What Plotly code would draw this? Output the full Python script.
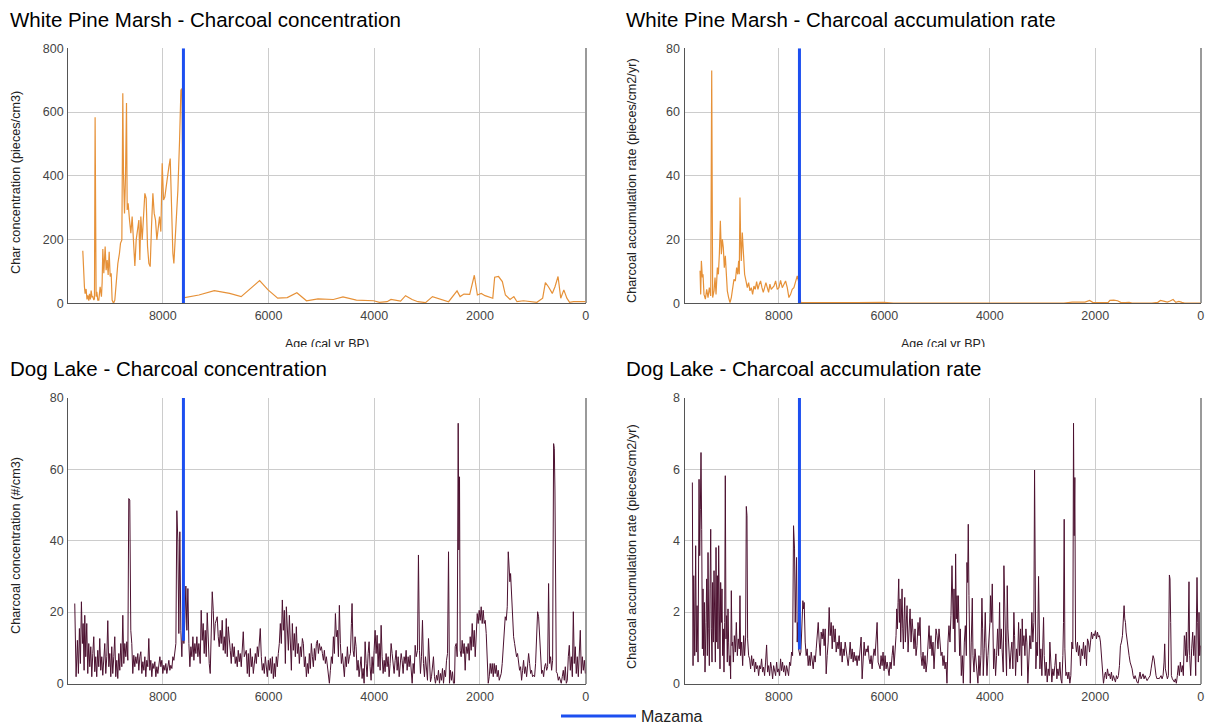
import plotly.graph_objects as go

# ---------------------------------------------------------------------------
# Data
# ---------------------------------------------------------------------------
AGE_TICKS = [8000, 6000, 4000, 2000, 0]
MAZAMA_AGE = 7610

# White Pine Marsh, samples older than the Mazama tephra (concentration)
wp_pre_conc_age = [
    9514, 9501, 9483, 9470, 9451, 9435, 9419, 9400, 9388, 9370,
    9356, 9340, 9325, 9305, 9293, 9281, 9262, 9249, 9230, 9211,
    9186, 9161, 9148, 9135, 9116, 9091, 9072, 9053, 9034, 9015,
    8996, 8977, 8959, 8933, 8908, 8883, 8851, 8820, 8801, 8775,
    8757, 8744, 8725, 8706, 8687, 8674, 8656, 8630, 8605, 8580,
    8555, 8529, 8504, 8479, 8453, 8435, 8416, 8390, 8365, 8340,
    8315, 8289, 8264, 8239, 8214, 8188, 8163, 8138, 8113, 8087,
    8062, 8037, 8012, 7986, 7961, 7936, 7911, 7885, 7860, 7835,
    7810, 7791, 7772, 7746, 7715, 7683, 7658, 7639, 7605,
]
wp_pre_conc = [
    165, 104, 52, 30, 45, 12, 25, 8, 30, 12,
    40, 20, 21, 10, 15, 584, 21, 36, 10, 10,
    52, 21, 65, 170, 94, 178, 104, 136, 89, 162,
    84, 94, 10, 0, 10, 73, 125, 157, 188, 199,
    659, 409, 282, 397, 628, 293, 314, 261, 220, 272,
    190, 117, 199, 225, 261, 136, 272, 199, 282, 345,
    329, 178, 125, 115, 240, 345, 282, 261, 199, 230,
    272, 225, 439, 324, 334, 366, 408, 429, 454, 282,
    157, 125, 188, 240, 355, 512, 669, 674, 20,
]

# White Pine Marsh, samples older than the Mazama tephra (accumulation)
wp_pre_car_age = [
    9495, 9483, 9470, 9451, 9439, 9420, 9394, 9369, 9344, 9319,
    9293, 9274, 9256, 9230, 9211, 9192, 9167, 9148, 9129, 9110,
    9091, 9072, 9054, 9035, 9016, 8997, 8978, 8953, 8927, 8902,
    8877, 8852, 8826, 8801, 8782, 8763, 8751, 8738, 8725, 8713,
    8694, 8675, 8650, 8624, 8599, 8574, 8549, 8523, 8498, 8473,
    8448, 8422, 8397, 8372, 8347, 8321, 8296, 8271, 8246, 8220,
    8195, 8170, 8145, 8119, 8094, 8062, 8031, 7999, 7968, 7936,
    7905, 7873, 7841, 7810, 7778, 7747, 7715, 7684, 7652, 7627,
    7600,
]
wp_pre_car = [
    10.2, 2.8, 13.3, 8.1, 9.1, 2.8, 1.3, 4.4, 1.8, 4.9,
    2.3, 73.0, 1.8, 3.9, 8.1, 2.8, 11.2, 9.1, 15.4, 25.9,
    15.4, 20.1, 17.5, 11.2, 14.9, 7.0, 3.9, 1.8, 0.2, 1.8,
    4.9, 7.5, 7.0, 11.2, 9.1, 13.3, 9.1, 33.2, 19.6, 13.3,
    22.2, 15.4, 9.1, 7.0, 4.9, 6.5, 3.9, 4.9, 2.8, 5.4,
    4.4, 6.8, 4.4, 6.0, 7.0, 4.9, 3.4, 4.9, 6.5, 4.9,
    3.4, 6.0, 4.4, 4.9, 5.4, 7.0, 4.4, 4.9, 7.2, 4.9,
    6.0, 7.0, 4.9, 1.8, 2.8, 4.4, 4.9, 7.0, 8.6, 7.0,
    0.2,
]

# White Pine Marsh, post-Mazama samples (shared ages)
wp_post_age = [
    7586, 7317, 7026, 6736, 6518, 6169, 6009, 5827, 5646, 5464,
    5282, 5064, 4774, 4592, 4338, 4011, 3902, 3757, 3684, 3502,
    3408, 3284, 3175, 3030, 2899, 2776, 2594, 2434, 2376, 2303,
    2194, 2107, 2049, 1976, 1904, 1758, 1722, 1649, 1577, 1519,
    1431, 1359, 1300, 1177, 1032, 923, 814, 763, 705, 632,
    581, 523, 472, 414, 356, 305, 232, 124, 0,
]
wp_post_conc = [
    18, 26, 40, 31, 21, 71, 42, 16, 18, 33,
    8, 14, 12, 20, 10, 8, 3, 5, 12, 7,
    24, 12, 5, 2, 21, 14, 5, 39, 21, 29,
    28, 88, 26, 31, 24, 16, 82, 84, 68, 26,
    12, 21, 5, 8, 5, 3, 16, 65, 52, 31,
    52, 84, 16, 42, 16, 3, 5, 4, 5,
]
wp_post_car = [
    0.2, 0.2, 0.3, 0.2, 0.2, 0.4, 0.3, 0.1, 0.1, 0.2,
    0.1, 0.1, 0.1, 0.1, 0.1, 0.1, 0.05, 0.1, 0.1, 0.1,
    0.2, 0.1, 0.1, 0.05, 0.2, 0.2, 0.1, 0.4, 0.3, 0.4,
    0.4, 0.9, 0.3, 0.3, 0.3, 0.2, 0.9, 1.0, 0.8, 0.3,
    0.2, 0.3, 0.1, 0.1, 0.1, 0.05, 0.3, 0.9, 0.7, 0.4,
    0.7, 1.2, 0.3, 0.6, 0.3, 0.1, 0.1, 0.1, 0.1,
]

# Dog Lake charcoal concentration (#/cm3)
dl_conc_age = [
    9666, 9641, 9616, 9597, 9578, 9559, 9540, 9521, 9508, 9489,
    9477, 9458, 9439, 9420, 9401, 9382, 9363, 9344, 9325, 9306,
    9287, 9269, 9250, 9231, 9212, 9193, 9174, 9155, 9136, 9117,
    9098, 9079, 9060, 9041, 9022, 9003, 8984, 8966, 8947, 8928,
    8909, 8890, 8871, 8852, 8833, 8814, 8795, 8776, 8757, 8738,
    8719, 8700, 8681, 8662, 8644, 8625, 8606, 8587, 8568, 8549,
    8530, 8511, 8492, 8473, 8454, 8435, 8416, 8397, 8378, 8359,
    8340, 8322, 8303, 8284, 8265, 8246, 8227, 8208, 8189, 8170,
    8151, 8132, 8113, 8094, 8075, 8056, 8037, 8019, 8000, 7981,
    7962, 7943, 7924, 7905, 7886, 7867, 7848, 7829, 7810, 7791,
    7772, 7753, 7735, 7716, 7697, 7678, 7659, 7640, 7621, 7602,
    7583, 7564, 7545, 7526, 7507, 7488, 7469, 7450, 7431, 7412,
    7394, 7375, 7356, 7337, 7318, 7293, 7274, 7255, 7236, 7217,
    7198, 7179, 7160, 7141, 7122, 7103, 7084, 7065, 7046, 7027,
    7008, 6990, 6971, 6952, 6933, 6914, 6895, 6876, 6857, 6838,
    6819, 6800, 6781, 6762, 6743, 6724, 6705, 6686, 6667, 6649,
    6630, 6611, 6592, 6573, 6554, 6535, 6516, 6497, 6478, 6459,
    6421, 6402, 6383, 6364, 6345, 6326, 6307, 6288, 6269, 6250,
    6231, 6212, 6193, 6175, 6156, 6137, 6118, 6099, 6080, 6061,
    6042, 6023, 6004, 5985, 5966, 5947, 5928, 5909, 5890, 5872,
    5853, 5834, 5815, 5796, 5777, 5758, 5739, 5720, 5701, 5682,
    5663, 5644, 5625, 5606, 5587, 5568, 5550, 5531, 5512, 5493,
    5474, 5455, 5436, 5417, 5398, 5379, 5360, 5341, 5322, 5303,
    5284, 5265, 5246, 5228, 5209, 5190, 5171, 5152, 5133, 5114,
    5095, 5076, 5057, 5038, 5019, 5000, 4981, 4962, 4944, 4925,
    4906, 4887, 4868, 4849, 4830, 4811, 4792, 4773, 4754, 4735,
    4716, 4697, 4678, 4660, 4641, 4622, 4603, 4584, 4565, 4546,
    4527, 4508, 4489, 4470, 4451, 4432, 4420, 4401, 4382, 4363,
    4344, 4325, 4306, 4287, 4268, 4249, 4230, 4211, 4192, 4173,
    4154, 4135, 4116, 4098, 4079, 4060, 4041, 4022, 4003, 3984,
    3965, 3946, 3927, 3908, 3889, 3870, 3851, 3832, 3813, 3795,
    3776, 3757, 3738, 3719, 3700, 3681, 3662, 3643, 3624, 3605,
    3586, 3567, 3548, 3529, 3510, 3491, 3473, 3454, 3435, 3416,
    3397, 3378, 3359, 3340, 3321, 3302, 3283, 3264, 3245, 3226,
    3207, 3182, 3164, 3145, 3126, 3107, 3088, 3069, 3050, 3031,
    3012, 2993, 2974, 2955, 2936, 2917, 2898, 2880, 2861, 2842,
    2823, 2804, 2785, 2766, 2747, 2728, 2709, 2690, 2671, 2652,
    2633, 2614, 2595, 2577, 2558, 2539, 2520, 2501, 2482, 2469,
    2450, 2431, 2412, 2400, 2387, 2375, 2356, 2337, 2318, 2299,
    2280, 2261, 2242, 2223, 2204, 2185, 2166, 2147, 2128, 2109,
    2090, 2071, 2052, 2034, 2015, 1996, 1977, 1958, 1939, 1920,
    1901, 1882, 1863, 1844, 1825, 1806, 1787, 1768, 1749, 1731,
    1712, 1693, 1674, 1655, 1636, 1617, 1598, 1579, 1560, 1541,
    1522, 1503, 1484, 1465, 1447, 1434, 1421, 1402, 1383, 1364,
    1345, 1327, 1308, 1289, 1270, 1251, 1232, 1213, 1194, 1175,
    1156, 1137, 1118, 1099, 1080, 1061, 1042, 1024, 1005, 986,
    967, 948, 929, 910, 891, 872, 853, 834, 815, 796,
    777, 758, 739, 720, 702, 683, 664, 645, 626, 607,
    594, 582, 569, 556, 537, 519, 500, 481, 462, 443,
    424, 405, 386, 367, 348, 329, 310, 291, 272, 253,
    234, 216, 197, 178, 159, 140, 121, 102, 83, 64,
    45, 26, 7,
]
dl_conc = [
    22.4, 1.9, 12.1, 2.8, 15.4, 5.6, 22.9, 11.2, 16.8, 3.7,
    19.1, 7.5, 16.8, 2.8, 11.2, 4.7, 10.3, 1.9, 8.4, 13.1,
    3.3, 7.5, 1.9, 9.3, 4.7, 12.6, 3.7, 7.5, 2.3, 8.4,
    11.2, 2.8, 7.5, 17.6, 4.7, 8.4, 1.9, 10.3, 2.8, 7.5,
    13.1, 1.9, 6.5, 1.4, 8.4, 3.7, 11.2, 4.7, 19.1, 5.6,
    11.2, 7.5, 11.7, 6.5, 51.8, 51.4, 14.9, 11.2, 2.8, 7.9,
    4.7, 7.5, 5.6, 8.4, 3.7, 7.5, 8.9, 2.8, 6.1, 3.7,
    7.5, 1.9, 6.5, 4.7, 12.6, 3.7, 6.5, 1.9, 5.6, 4.2,
    6.1, 1.9, 4.7, 2.8, 6.1, 7.5, 4.7, 6.5, 2.8, 5.1,
    3.7, 5.6, 2.8, 4.7, 6.5, 3.7, 5.1, 4.2, 7.5, 6.5,
    8.4, 11.2, 48.4, 40.2, 14.0, 42.5, 14.9, 7.5, 17.7, 11.2,
    17.7, 27.3, 14.9, 26.6, 11.2, 4.7, 10.3, 7.5, 13.1, 6.5,
    11.2, 8.4, 13.1, 7.5, 11.2, 5.6, 20.5, 12.1, 16.8, 8.4,
    14.9, 7.5, 19.8, 11.2, 5.6, 2.8, 16.8, 25.7, 20.5, 12.1,
    16.8, 17.7, 18.7, 13.1, 10.3, 14.9, 11.2, 17.7, 9.3, 13.1,
    8.4, 18.2, 7.5, 15.9, 11.2, 9.3, 5.6, 11.2, 7.5, 10.3,
    5.6, 7.5, 4.7, 9.3, 6.1, 8.4, 4.7, 9.3, 14.5, 7.5,
    9.3, 2.8, 8.4, 1.9, 9.8, 4.7, 7.5, 2.8, 6.5, 8.4,
    5.6, 10.3, 7.5, 11.2, 15.4, 7.5, 3.7, 5.6, 2.8, 7.5,
    4.7, 1.9, 6.5, 3.7, 7.0, 2.8, 7.5, 1.4, 5.6, 1.9,
    7.5, 4.7, 8.4, 11.2, 16.8, 11.2, 23.4, 14.9, 20.5, 5.6,
    21.5, 13.1, 9.3, 19.1, 11.2, 3.7, 16.8, 9.3, 14.0, 7.5,
    15.9, 8.4, 11.2, 5.6, 10.3, 7.5, 12.6, 11.2, 4.7, 7.5,
    1.9, 5.6, 2.8, 8.4, 4.2, 11.2, 7.5, 4.7, 9.8, 6.5,
    11.2, 12.1, 8.4, 11.2, 9.3, 10.3, 8.4, 6.5, 9.3, 5.6,
    7.5, 4.7, 2.8, 0, 3.7, 7.5, 5.6, 13.1, 8.4, 19.6,
    13.1, 14.9, 7.5, 21.9, 11.2, 5.6, 8.4, 3.7, 1.9, 7.5,
    4.7, 10.3, 5.6, 7.5, 8.4, 16.8, 22.4, 9.3, 7.5, 13.1,
    10.3, 3.7, 6.5, 1.9, 4.7, 7.5, 1.4, 4.2, 0, 11.7,
    5.6, 1.9, 8.4, 11.7, 4.7, 0.9, 7.5, 2.8, 9.3, 14.9,
    8.4, 13.5, 4.7, 11.2, 3.7, 16.3, 7.5, 2.8, 6.5, 3.3,
    8.4, 4.7, 7.5, 1.9, 5.6, 11.2, 8.4, 4.7, 2.8, 6.5,
    9.3, 3.7, 7.5, 1.9, 4.7, 8.4, 6.5, 2.8, 7.5, 5.6,
    9.3, 3.7, 7.5, 4.7, 7.9, 2.8, 0, 5.6, 2.8, 10.7,
    7.5, 9.3, 36.0, 9.3, 2.8, 7.5, 17.7, 5.6, 1.9, 7.5,
    2.8, 0.9, 12.6, 3.7, 0.5, 1.9, 4.7, 7.5, 1.9, 0,
    2.3, 0.9, 3.7, 0, 2.8, 0.9, 4.2, 0, 3.7, 1.9,
    6.5, 8.4, 36.9, 0, 3.7, 0.9, 3.3, 0, 0, 10.3,
    11.2, 7.5, 72.9, 37.4, 57.9, 9.3, 7.5, 12.1, 8.4, 11.2,
    3.7, 10.3, 8.4, 11.2, 6.5, 13.1, 9.3, 16.8, 10.3, 14.9,
    7.5, 14.0, 19.6, 16.8, 20.5, 17.7, 21.5, 16.8, 20.5, 16.8,
    17.7, 14.0, 7.5, 0, 1.9, 5.6, 2.8, 5.6, 1.9, 5.6,
    2.8, 5.1, 1.9, 3.7, 0.9, 1.9, 2.8, 5.6, 9.3, 14.9,
    18.7, 17.7, 21.5, 36.9, 32.7, 28.5, 30.8, 24.3, 17.7, 13.1,
    11.2, 9.3, 7.5, 8.4, 5.1, 3.7, 4.7, 0.9, 3.7, 6.5,
    2.8, 4.7, 1.9, 6.5, 8.4, 5.6, 2.8, 3.7, 1.9, 2.3,
    1.9, 5.6, 13.1, 20.1, 18.7, 14.0, 6.5, 2.8, 3.7, 1.9,
    4.7, 5.6, 3.7, 4.7, 28.0, 5.6, 7.5, 3.7, 6.5, 67.2,
    65.8, 54.2, 26.2, 3.3, 2.8, 0.9, 1.9, 0.9, 0, 1.9,
    3.7, 0.9, 4.7, 0, 0.9, 7.5, 10.7, 3.7, 7.5, 1.9,
    20.1, 5.6, 10.3, 2.8, 7.5, 1.9, 9.3, 14.9, 2.8, 7.5,
    3.7, 6.5, 2.8,
]

# Dog Lake charcoal accumulation rate (pieces/cm2/yr)
dl_car_age = [
    9641, 9628, 9615, 9596, 9578, 9565, 9552, 9533, 9514, 9502,
    9489, 9477, 9464, 9451, 9439, 9426, 9413, 9401, 9382, 9369,
    9357, 9344, 9331, 9319, 9306, 9293, 9281, 9268, 9256, 9243,
    9230, 9218, 9205, 9192, 9180, 9167, 9155, 9142, 9129, 9117,
    9104, 9091, 9079, 9066, 9054, 9041, 9028, 9016, 9003, 8990,
    8978, 8965, 8953, 8940, 8927, 8915, 8902, 8889, 8877, 8864,
    8845, 8826, 8807, 8788, 8770, 8751, 8738, 8725, 8706, 8687,
    8668, 8650, 8631, 8618, 8605, 8593, 8574, 8555, 8536, 8517,
    8498, 8479, 8460, 8441, 8422, 8403, 8384, 8365, 8347, 8328,
    8309, 8290, 8271, 8252, 8233, 8214, 8195, 8176, 8157, 8138,
    8119, 8100, 8081, 8062, 8043, 8025, 8006, 7987, 7968, 7949,
    7930, 7911, 7892, 7873, 7854, 7835, 7816, 7797, 7778, 7759,
    7740, 7722, 7703, 7690, 7677, 7665, 7652, 7639, 7627, 7601,
    7583, 7564, 7545, 7532, 7520, 7501, 7482, 7463, 7444, 7425,
    7406, 7387, 7368, 7349, 7330, 7311, 7292, 7273, 7254, 7235,
    7216, 7198, 7179, 7160, 7141, 7122, 7103, 7084, 7065, 7046,
    7027, 7008, 6989, 6970, 6951, 6932, 6913, 6895, 6876, 6857,
    6838, 6819, 6800, 6781, 6762, 6743, 6724, 6705, 6686, 6667,
    6648, 6629, 6610, 6591, 6573, 6554, 6535, 6516, 6497, 6478,
    6459, 6440, 6421, 6402, 6383, 6364, 6345, 6327, 6308, 6289,
    6270, 6251, 6232, 6213, 6194, 6175, 6156, 6137, 6118, 6099,
    6080, 6062, 6043, 6024, 6005, 5986, 5967, 5948, 5929, 5910,
    5891, 5872, 5853, 5834, 5815, 5796, 5778, 5765, 5752, 5740,
    5727, 5714, 5702, 5689, 5676, 5664, 5651, 5639, 5626, 5613,
    5601, 5588, 5569, 5550, 5531, 5512, 5493, 5474, 5456, 5437,
    5418, 5399, 5380, 5361, 5342, 5323, 5304, 5285, 5266, 5247,
    5228, 5209, 5190, 5171, 5152, 5134, 5115, 5096, 5077, 5058,
    5039, 5020, 5001, 4982, 4963, 4944, 4925, 4906, 4887, 4868,
    4849, 4831, 4812, 4793, 4774, 4755, 4736, 4717, 4704, 4692,
    4679, 4660, 4648, 4635, 4622, 4610, 4597, 4584, 4572, 4559,
    4540, 4521, 4502, 4483, 4464, 4445, 4433, 4420, 4408, 4395,
    4382, 4370, 4351, 4332, 4319, 4300, 4281, 4262, 4243, 4225,
    4206, 4187, 4168, 4149, 4136, 4124, 4105, 4086, 4073, 4054,
    4035, 4016, 3997, 3985, 3972, 3953, 3940, 3928, 3909, 3890,
    3871, 3852, 3833, 3814, 3802, 3783, 3764, 3745, 3732, 3719,
    3701, 3682, 3669, 3656, 3637, 3618, 3599, 3581, 3562, 3543,
    3530, 3511, 3492, 3473, 3454, 3435, 3416, 3397, 3385, 3372,
    3353, 3334, 3315, 3297, 3278, 3259, 3240, 3221, 3202, 3183,
    3164, 3151, 3138, 3126, 3107, 3094, 3075, 3063, 3050, 3031,
    3012, 2993, 2980, 2968, 2949, 2930, 2911, 2892, 2873, 2861,
    2842, 2823, 2804, 2785, 2766, 2747, 2728, 2709, 2690, 2671,
    2652, 2633, 2614, 2602, 2589, 2576, 2557, 2539, 2520, 2501,
    2482, 2463, 2444, 2425, 2412, 2400, 2387, 2374, 2356, 2337,
    2318, 2299, 2280, 2261, 2242, 2223, 2204, 2185, 2166, 2147,
    2128, 2109, 2090, 2071, 2052, 2034, 2015, 1996, 1977, 1958,
    1939, 1920, 1901, 1882, 1863, 1844, 1825, 1806, 1787, 1768,
    1749, 1730, 1712, 1693, 1674, 1655, 1636, 1617, 1598, 1579,
    1560, 1541, 1522, 1503, 1484, 1465, 1453, 1440, 1427, 1415,
    1396, 1377, 1358, 1339, 1320, 1301, 1282, 1263, 1244, 1225,
    1207, 1188, 1169, 1150, 1131, 1112, 1093, 1074, 1055, 1036,
    1017, 998, 979, 960, 941, 922, 903, 885, 866, 847,
    828, 809, 790, 771, 752, 733, 714, 695, 683, 670,
    651, 632, 613, 594, 582, 569, 556, 537, 518, 499,
    481, 462, 443, 424, 405, 386, 367, 348, 329, 310,
    297, 285, 272, 260, 241, 222, 209, 190, 171, 152,
    133, 114, 95, 83, 70, 57, 45, 32, 19, 7,
]
dl_car = [
    5.63, 0.5, 3.02, 0.78, 3.86, 0.88, 2.18, 0.6, 5.72, 3.58,
    4.88, 6.47, 4.32, 0.97, 2.65, 0.78, 2.27, 0.32, 1.71, 2.93,
    0.78, 3.67, 1.53, 0.5, 2.65, 4.32, 1.53, 0.6, 2.83, 1.16,
    3.16, 1.71, 0.6, 3.81, 1.16, 3.02, 0.97, 3.86, 2.18, 0.41,
    2.83, 1.71, 2.65, 0.78, 1.53, 0.32, 1.71, 5.82, 1.25, 1.9,
    0.6, 2.09, 1.16, 0.5, 0.78, 0.13, 2.6, 1.06, 1.16, 0.6,
    1.34, 0.88, 1.71, 0.78, 1.25, 0.97, 2.46, 0.78, 1.16, 0.5,
    1.34, 0.78, 1.3, 4.96, 4.7, 1.25, 0.78, 0.69, 0.41, 0.78,
    0.5, 0.69, 0.32, 0.6, 0.41, 0.5, 0.22, 0.5, 0.41, 0.69,
    0.32, 0.46, 0.22, 0.6, 1.08, 0.32, 0.5, 0.22, 0.6, 0.41,
    0.13, 0.5, 0.36, 0.22, 0.6, 0.32, 0.41, 0.22, 0.69, 0.36,
    0.6, 0.32, 0.5, 0.22, 0.5, 0.36, 0.22, 0.6, 0.5, 0.88,
    0.78, 4.42, 3.77, 1.71, 3.02, 3.53, 1.16, 1.71, 0.97, 0.78,
    0.88, 1.53, 2.32, 2.09, 2.27, 1.16, 0.78, 0.97, 0.5, 0.78,
    0.5, 0.88, 0.64, 0.41, 0.78, 0.6, 0.97, 1.25, 1.71, 1.16,
    0.78, 1.44, 1.25, 1.53, 1.06, 1.53, 0.27, 0.78, 1.16, 2.13,
    1.34, 1.71, 0.97, 1.62, 1.16, 1.53, 0.88, 1.16, 0.97, 1.34,
    0.78, 1.16, 0.6, 0.97, 0.78, 1.16, 0.88, 0.74, 0.5, 0.78,
    1.16, 0.69, 0.97, 0.6, 0.88, 0.64, 0.78, 0.5, 0.78, 0.64,
    1.16, 1.3, 0.13, 0.78, 1.16, 0.78, 0.97, 0.88, 1.06, 0.69,
    0.55, 0.78, 0.41, 0.74, 0.97, 0.78, 1.16, 1.71, 0.6, 0.5,
    0.41, 0.78, 0.5, 0.88, 0.36, 0.78, 0.41, 0.6, 0.32, 0.22,
    0.6, 0.41, 0.78, 1.06, 0.5, 0.88, 1.34, 2.09, 1.53, 2.27,
    2.93, 1.71, 2.37, 1.16, 1.9, 2.65, 1.53, 0.97, 1.81, 2.41,
    1.16, 1.53, 2.18, 0.88, 1.71, 2.09, 1.16, 1.81, 1.44, 0.97,
    1.53, 0.78, 1.06, 1.71, 1.34, 1.85, 0.78, 0.5, 0.88, 0.41,
    0.78, 0.32, 0.6, 1.16, 1.62, 0.97, 1.34, 0.78, 1.16, 0.41,
    1.06, 1.53, 1.34, 0.97, 1.53, 1.16, 0.78, 0.88, 0.5, 0.78,
    0.41, 0.6, 0, 1.16, 1.62, 1.16, 1.9, 3.3, 2.18, 1.53,
    2.65, 0.88, 3.63, 1.81, 2.46, 1.71, 2.46, 1.16, 0.78, 1.53,
    0.22, 0.78, 0, 1.16, 1.62, 0.78, 3.39, 2.83, 4.46, 2.46,
    1.16, 0, 1.16, 2.39, 0.78, 0.32, 0.97, 0.6, 0.22, 0,
    0.78, 0.22, 0.78, 2.39, 1.53, 0.22, 0.97, 1.99, 1.16, 0.22,
    0.78, 1.16, 1.71, 2.46, 1.71, 2.79, 1.71, 0.41, 0.97, 0.22,
    0.78, 1.53, 0.78, 2.27, 0.97, 1.53, 0.88, 0.32, 3.3, 1.71,
    1.16, 0.22, 2.74, 1.53, 0.78, 0.41, 0.88, 1.16, 0.41, 1.99,
    1.34, 0.22, 0.97, 0.6, 1.71, 0.78, 1.53, 0.22, 1.81, 1.06,
    1.34, 0.78, 1.53, 1.16, 0, 0.78, 1.34, 0.97, 1.99, 1.16,
    1.71, 5.98, 1.71, 0.41, 1.16, 0.78, 3.0, 1.16, 0.41, 0.97,
    0.22, 1.16, 1.85, 0.78, 0.22, 0.6, 0.04, 0.41, 0.22, 1.16,
    0.32, 0.04, 0.41, 0.22, 0.5, 0.83, 0.13, 0.41, 0.22, 0.6,
    0.13, 0, 0.78, 1.71, 4.6, 0.97, 0.22, 0.32, 0.13, 0.32,
    0, 0.22, 1.16, 0.97, 7.29, 4.14, 5.77, 1.16, 0.88, 1.16,
    0.78, 1.06, 0.5, 0.97, 0.78, 1.16, 0.69, 1.06, 0.5, 1.25,
    1.16, 0.88, 1.16, 1.44, 1.25, 1.39, 1.34, 1.48, 1.25, 1.44,
    1.3, 1.34, 1.16, 0.78, 0.22, 0, 0.22, 0.32, 0.13, 0.41,
    0.22, 0.27, 0.13, 0.32, 0.08, 0.22, 0.13, 0.04, 0.22, 0.13,
    0.22, 0.5, 1.06, 1.16, 1.34, 1.71, 2.18, 1.81, 1.71, 1.44,
    1.16, 0.88, 0.78, 0.6, 0.5, 0.41, 0.22, 0.13, 0.22, 0.08,
    0.04, 0, 0.22, 0.32, 0.13, 0.22, 0.27, 0.13, 0.22, 0.15,
    0.08, 0.13, 0.18, 0.22, 0.41, 0.6, 0.78, 0.69, 0.41, 0.22,
    0.13, 0.15, 0.13, 0.18, 0.22, 0.13, 0.22, 0.6, 1.11, 0.41,
    0.22, 0.13, 0.22, 3.04, 2.93, 1.71, 0.22, 0.13, 0.08, 0.04,
    0.13, 0, 0.22, 0.5, 0.22, 0.6, 0.32, 0.5, 0.22, 1.34,
    1.16, 0.78, 1.44, 0.6, 0.97, 2.85, 0.78, 0.22, 0.97, 1.44,
    0.78, 1.34, 0.22, 1.16, 2.97, 1.71, 0.6, 1.99, 0.78, 1.06,
]

# Vertical extent of the Mazama marker on each panel (bottom, top)
mazama_span_wp_conc = [0, 800]
mazama_span_wp_car = [0, 80]
mazama_span_dl_conc = [12, 80]
mazama_span_dl_car = [0.95, 8]

assert len(wp_pre_conc_age) == len(wp_pre_conc)
assert len(wp_pre_car_age) == len(wp_pre_car)
assert len(wp_post_age) == len(wp_post_conc) == len(wp_post_car)
assert len(dl_conc_age) == len(dl_conc)
assert len(dl_car_age) == len(dl_car)

# ---------------------------------------------------------------------------
# Figure
# ---------------------------------------------------------------------------
W, H = 1208, 724
FONT = "Arial, 'Liberation Sans', Helvetica, sans-serif"
ORANGE = "#e69138"
MAROON = "#4c1130"
BLUE = "#1c4ff0"
GRID = "#cccccc"


def fx(px):
    return px / W


def fy(py):
    return 1 - py / H


panels = [
    dict(n="", xdom=(68.2, 585.7), ydom=(48.3, 303.3), yrange=[0, 800], dtick=200,
         x=wp_pre_conc_age + wp_post_age, y=wp_pre_conc + wp_post_conc,
         color=ORANGE, width=1.2, span=mazama_span_wp_conc,
         title="White Pine Marsh - Charcoal concentration",
         ytitle="Char concentration (pieces/cm3)", title_y=19.5, ytitle_y=183,
         tx=8, ytx=16),
    dict(n="2", xdom=(684.5, 1200.7), ydom=(48.3, 303.3), yrange=[0, 80], dtick=20,
         x=wp_pre_car_age + wp_post_age, y=wp_pre_car + wp_post_car,
         color=ORANGE, width=1.2, span=mazama_span_wp_car,
         title="White Pine Marsh - Charcoal accumulation rate",
         ytitle="Charcoal accumulation rate (pieces/cm2/yr)", title_y=19.5, ytitle_y=181,
         tx=624, ytx=632),
    dict(n="3", xdom=(68.2, 585.7), ydom=(397.9, 683.5), yrange=[0, 80], dtick=20,
         x=dl_conc_age, y=dl_conc,
         color=MAROON, width=1.0, span=mazama_span_dl_conc,
         title="Dog Lake - Charcoal concentration",
         ytitle="Charcoal concentration (#/cm3)", title_y=368, ytitle_y=546,
         tx=8, ytx=16),
    dict(n="4", xdom=(684.5, 1200.7), ydom=(397.9, 683.5), yrange=[0, 8], dtick=2,
         x=dl_car_age, y=dl_car,
         color=MAROON, width=1.0, span=mazama_span_dl_car,
         title="Dog Lake - Charcoal accumulation rate",
         ytitle="Charcoal accumulation rate (pieces/cm2/yr)", title_y=368, ytitle_y=547,
         tx=624, ytx=632),
]

fig = go.Figure()
annotations = []
layout_axes = {}

for i, p in enumerate(panels):
    xa, ya = "x" + p["n"], "y" + p["n"]
    fig.add_trace(go.Scatter(
        x=p["x"], y=p["y"], mode="lines",
        line=dict(color=p["color"], width=p["width"]),
        xaxis=xa, yaxis=ya, showlegend=False, hoverinfo="x+y",
    ))
    fig.add_trace(go.Scatter(
        x=[MAZAMA_AGE, MAZAMA_AGE], y=p["span"], mode="lines",
        line=dict(color=BLUE, width=3),
        name="Mazama", xaxis=xa, yaxis=ya, showlegend=(i == 0),
        hoverinfo="name",
    ))

    layout_axes["xaxis" + p["n"]] = dict(
        domain=[fx(p["xdom"][0]), fx(p["xdom"][1])],
        anchor=ya, range=[9790, 0], tickvals=AGE_TICKS, tickformat="d",
        showgrid=True, gridcolor=GRID, gridwidth=1,
        zeroline=True, zerolinecolor="#9a9a9a", zerolinewidth=1.5,
        showline=True, linecolor="#555555", linewidth=1,
        ticks="", ticklabelstandoff=1, automargin=False,
        tickfont=dict(family=FONT, size=12.5, color="#444444"),
        fixedrange=True,
    )
    layout_axes["yaxis" + p["n"]] = dict(
        domain=[fy(p["ydom"][1]), fy(p["ydom"][0])],
        anchor=xa, range=p["yrange"], dtick=p["dtick"], tick0=0,
        showgrid=True, gridcolor=GRID, gridwidth=1,
        zeroline=False, showline=True, linecolor="#555555", linewidth=1,
        ticks="", ticklabelstandoff=1, automargin=False,
        tickfont=dict(family=FONT, size=12.5, color="#444444"),
        fixedrange=True,
    )

    annotations.append(dict(
        text=p["title"], xref="paper", yref="paper",
        x=fx(p["tx"]), y=fy(p["title_y"]), xanchor="left", yanchor="middle",
        showarrow=False, font=dict(family=FONT, size=20.5, color="#000000"),
    ))
    annotations.append(dict(
        text=p["ytitle"], xref="paper", yref="paper", textangle=-90,
        x=fx(p["ytx"]), y=fy(p["ytitle_y"]), xanchor="center", yanchor="middle",
        showarrow=False, font=dict(family=FONT, size=12.7, color="#222222"),
    ))

# x-axis titles of the upper panels, cut off by the lower panels
for cx in [(68.2 + 585.7) / 2, (684.5 + 1200.7) / 2]:
    annotations.append(dict(
        text="Age (cal yr BP)", xref="paper", yref="paper",
        x=fx(cx), y=fy(336), xanchor="center", yanchor="top",
        height=10, valign="top", borderpad=0,
        showarrow=False, font=dict(family=FONT, size=12.5, color="#222222"),
    ))

fig.update_layout(
    width=W, height=H,
    margin=dict(l=0, r=0, t=0, b=0, autoexpand=False),
    paper_bgcolor="white", plot_bgcolor="white",
    font=dict(family=FONT, color="#222222"),
    annotations=annotations,
    showlegend=True,
    legend=dict(
        x=fx(556), y=fy(716), xanchor="left", yanchor="middle",
        orientation="h", itemwidth=75, bgcolor="rgba(0,0,0,0)",
        font=dict(family=FONT, size=16, color="#222222"),
    ),
    **layout_axes,
)

fig.write_html("out.html", config={"displayModeBar": False})
